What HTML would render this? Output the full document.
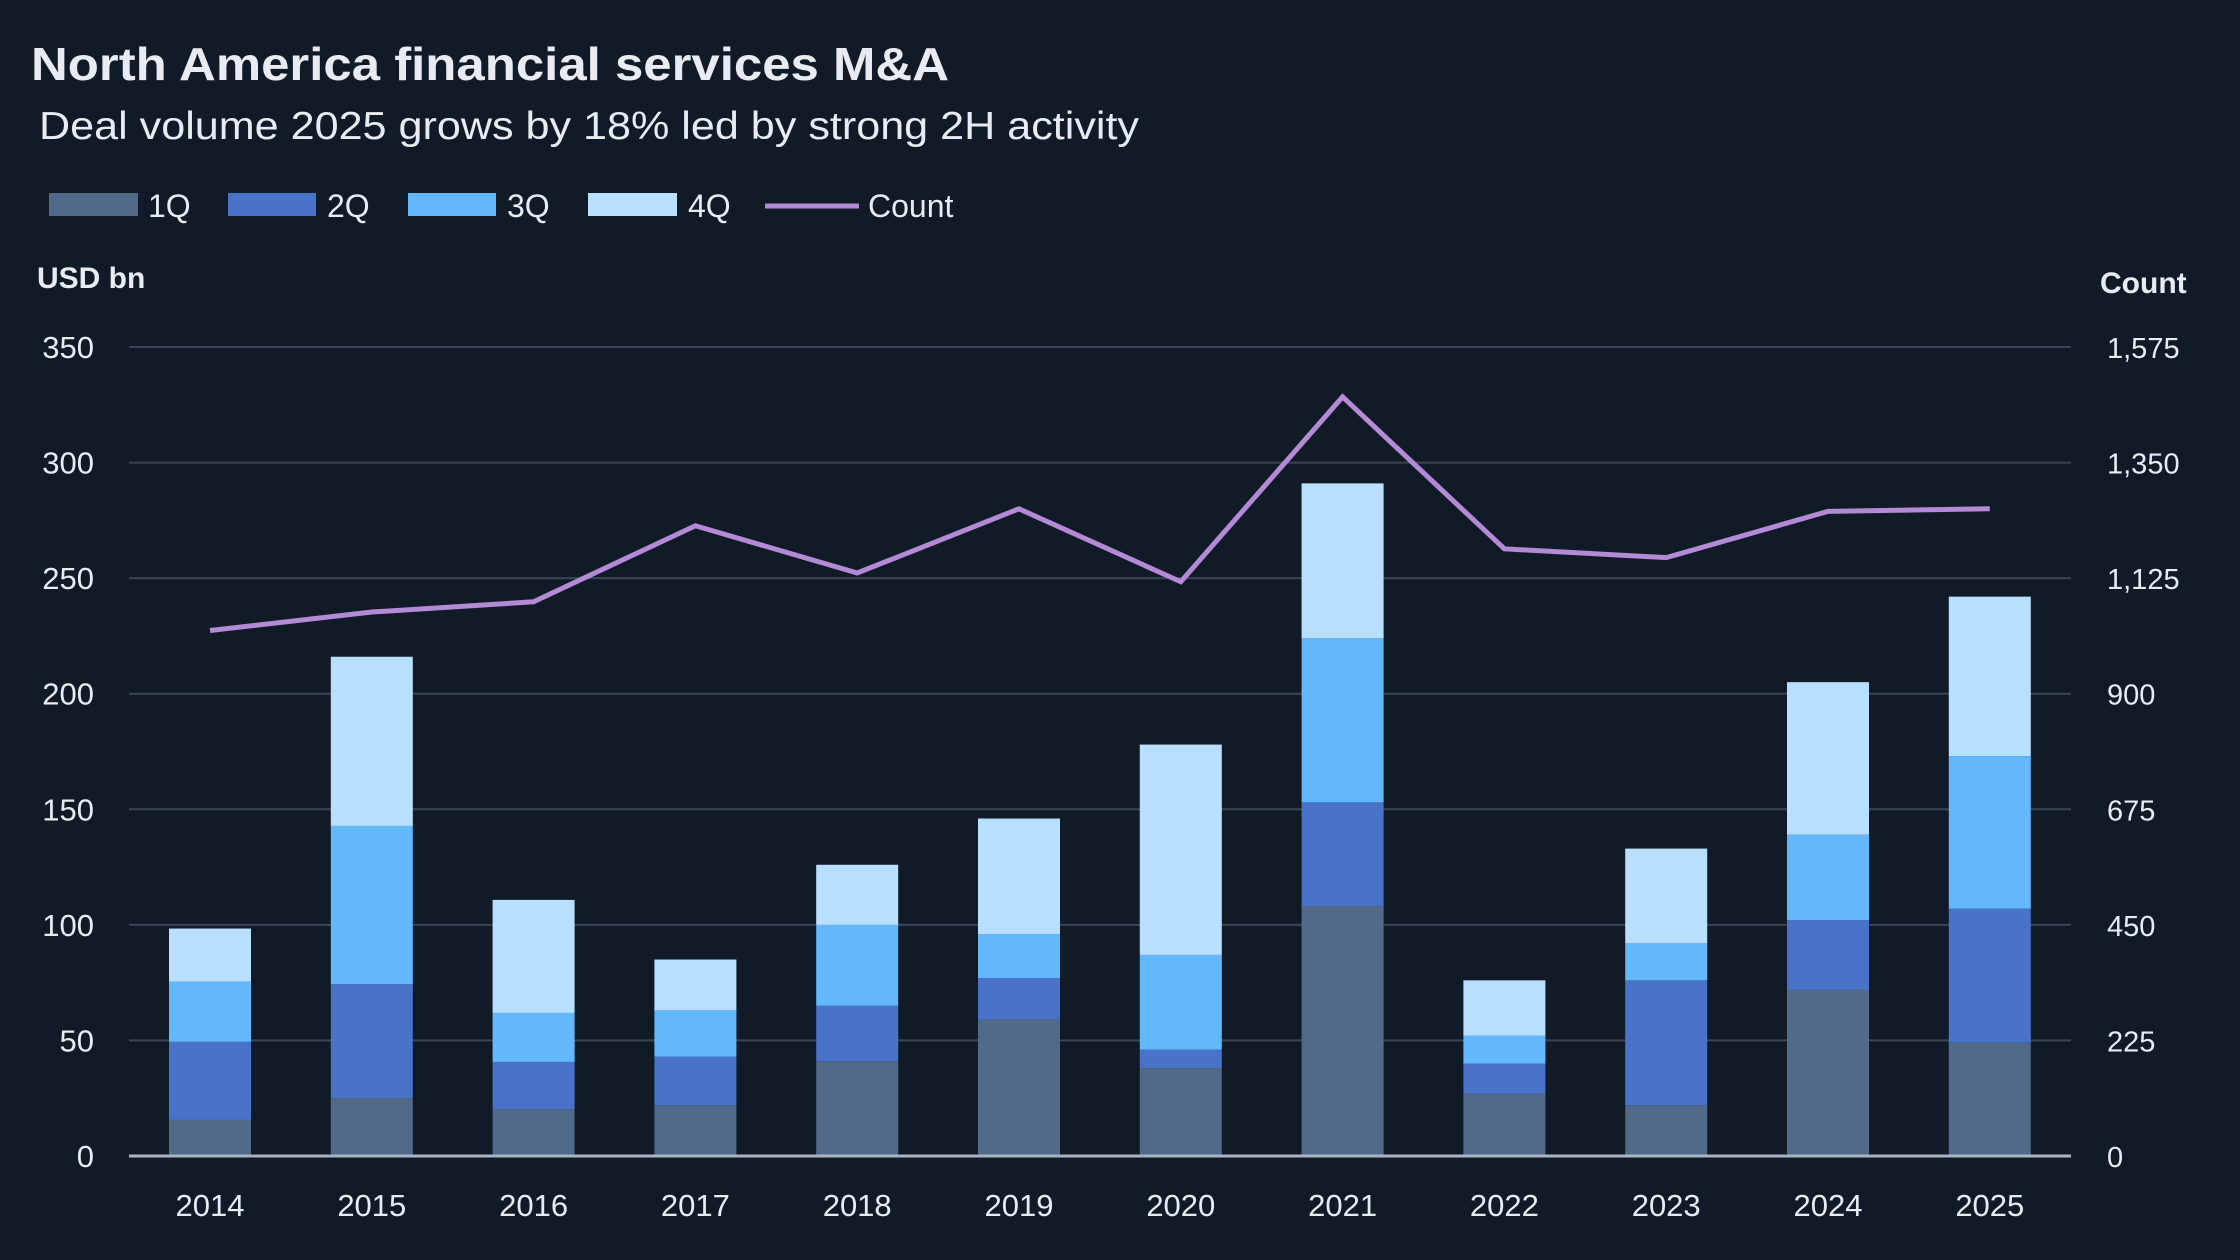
<!DOCTYPE html>
<html><head><meta charset="utf-8"><style>
html,body{margin:0;padding:0;background:#111b28;}
svg{display:block;}
text{font-family:"Liberation Sans",sans-serif;fill:#e8ecf2;}
</style></head><body>
<svg id="chart" width="2240" height="1260" viewBox="0 0 2240 1260" xmlns="http://www.w3.org/2000/svg">
<rect x="0" y="0" width="2240" height="1260" fill="#111b28"/>
<text x="31" y="80" font-size="46" font-weight="bold" textLength="918" lengthAdjust="spacingAndGlyphs" fill="#ffffff">North America financial services M&amp;A</text>
<text x="39" y="139" font-size="39" textLength="1100" lengthAdjust="spacingAndGlyphs">Deal volume 2025 grows by 18% led by strong 2H activity</text>
<g>
<rect x="49" y="193" width="89" height="23" fill="#516a8a"/>
<text x="148" y="217" font-size="32">1Q</text>
<rect x="228" y="193" width="88" height="23" fill="#4873c8"/>
<text x="327" y="217" font-size="32">2Q</text>
<rect x="408" y="193" width="88" height="23" fill="#62b8fb"/>
<text x="507" y="217" font-size="32">3Q</text>
<rect x="588" y="193" width="89" height="23" fill="#b8e0fe"/>
<text x="688" y="217" font-size="32">4Q</text>
<line x1="765" y1="206" x2="859" y2="206" stroke="#b48ad6" stroke-width="5"/>
<text x="868" y="217" font-size="32">Count</text>
</g>
<text x="37" y="288" font-size="30" font-weight="bold">USD bn</text>
<text x="2100" y="293" font-size="30" font-weight="bold" font-family="DejaVu Sans">Count</text>
<g id="grid"></g><g id="bars"></g><g id="line"></g><g id="axes"></g>
</svg>
<script>
const years = ["2014","2015","2016","2017","2018","2019","2020","2021","2022","2023","2024","2025"];
const q1 = [15.6,25,20.3,22,41,59,38,108,27,22,72,49];
const q2 = [33.8,49.4,20.4,21,24,18,8,45,13,54,30,58];
const q3 = [26.1,68.4,21.2,20,35,19,41,71,12,16,37,66];
const q4 = [22.9,73.2,48.9,22,26,50,91,67,24,41,66,69];
const counts = [1023,1059,1079,1227,1135,1260,1118,1478,1182,1165,1255,1260];
const leftTicks = [0,50,100,150,200,250,300,350];
const rightTicks = ["0","225","450","675","900","1,125","1,350","1,575"];

const NS = "http://www.w3.org/2000/svg";
const y0 = 1156, yTop = 347, plotL = 129, plotR = 2071;
const yL = v => y0 - v / 350 * (y0 - yTop);
const yR = v => y0 - v / 1575 * (y0 - yTop);
const xC = i => 210 + i * 161.8;
const bw = 82;
function mk(tag, attrs, parent) {
  const e = document.createElementNS(NS, tag);
  for (const k in attrs) e.setAttribute(k, attrs[k]);
  parent.appendChild(e);
  return e;
}
const grid = document.getElementById('grid');
leftTicks.forEach((t, i) => {
  const y = yL(t);
  if (i > 0) {
    const g = mk('line', {x1: plotL, x2: plotR, y1: y, y2: y, stroke: '#3a4656', 'stroke-width': 2}, grid);
    
    
  }
  const lt = mk('text', {x: 94, y: y + 11, 'font-size': 31, 'text-anchor': 'end'}, grid);
  lt.textContent = t;
  
  
  const rt = mk('text', {x: 2107, y: y + 11, 'font-size': 29, 'font-family': 'DejaVu Sans'}, grid);
  rt.textContent = rightTicks[i];
  
  
});
const bars = document.getElementById('bars');
const series = [q1, q2, q3, q4];
const colors = ['#516a8a', '#4873c8', '#62b8fb', '#b8e0fe'];
const qn = ['1q', '2q', '3q', '4q'];
years.forEach((yr, i) => {
  let base = 0;
  series.forEach((s, k) => {
    const top = base + s[i];
    const r = mk('rect', {x: xC(i) - bw / 2, y: yL(top), width: bw, height: yL(base) - yL(top), fill: colors[k]}, bars);
    
    
    base = top;
  });
  const xl = mk('text', {x: xC(i), y: 1216, 'font-size': 31, 'text-anchor': 'middle'}, bars);
  xl.textContent = yr;
  
  
});
const axes = document.getElementById('axes');
const ax = mk('line', {x1: plotL, x2: plotR, y1: y0, y2: y0, stroke: '#aab3c2', 'stroke-width': 3}, axes);


const pts = counts.map((c, i) => xC(i) + ',' + yR(c)).join(' ');
const pl = mk('polyline', {points: pts, fill: 'none', stroke: '#b48ad6', 'stroke-width': 5, 'stroke-linejoin': 'miter'}, document.getElementById('line'));


</script>
</body></html>
